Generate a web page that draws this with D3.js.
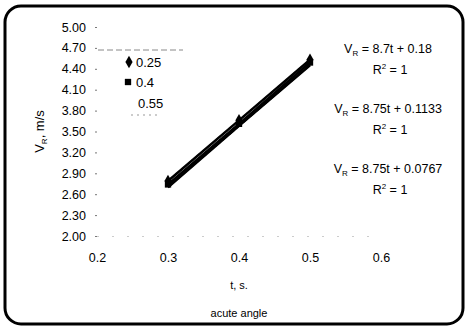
<!DOCTYPE html>
<html>
<head>
<meta charset="utf-8">
<script src="https://cdn.jsdelivr.net/npm/d3@7"></script>
<style>
  body { margin: 0; background: #fff; }
  svg text { font-family: Arial, "Liberation Sans", sans-serif; fill: #000; }
</style>
</head>
<body>
<div id="chart"></div>
<script>
const width = 468;
const height = 329;

// data
const times = [0.3, 0.4, 0.5];
const seriesNames = ['0.25', '0.4', '0.55'];
const values025 = [2.79, 3.66, 4.53];
const values04 = [2.74, 3.61, 4.49];
const values055 = [2.70, 3.58, 4.45];
const xTicks = [0.2, 0.3, 0.4, 0.5, 0.6];
const yTicks = [2.0, 2.3, 2.6, 2.9, 3.2, 3.5, 3.8, 4.1, 4.4, 4.7, 5.0];
const equations = ['8.7t + 0.18', '8.75t + 0.1133', '8.75t + 0.0767'];
const trendSlope = [8.7, 8.75, 8.75];
const trendIntercept = [0.18, 0.1133, 0.0767];

const series = [values025, values04, values055].map((vals, i) => ({
  name: seriesNames[i],
  points: vals.map((v, j) => ({ t: times[j], v: v }))
}));

const svg = d3.select('#chart').append('svg')
  .attr('width', width)
  .attr('height', height);

// frame
svg.append('rect')
  .attr('x', 5).attr('y', 6)
  .attr('width', 458).attr('height', 318)
  .attr('rx', 16).attr('ry', 16)
  .attr('fill', 'none')
  .attr('stroke', '#000')
  .attr('stroke-width', 3);

const x = d3.scaleLinear().domain([0.2, 0.6]).range([97, 381]);
const y = d3.scaleLinear().domain([2, 5]).range([236, 27]);

const g = svg.append('g');

// y axis
const yAxis = d3.axisLeft(y)
  .tickValues(yTicks)
  .tickFormat(d3.format('.2f'))
  .tickSize(2)
  .tickPadding(9);

g.append('g')
  .attr('transform', `translate(${x(0.2)},0)`)
  .call(yAxis)
  .call(s => s.select('.domain').remove())
  .call(s => s.selectAll('line').attr('stroke', '#777'))
  .call(s => s.selectAll('text').attr('font-size', 12.5).style('font-family', 'Arial, sans-serif'));

// x axis (dotted baseline)
const xAxis = d3.axisBottom(x)
  .tickValues(xTicks)
  .tickFormat(d3.format('.1f'))
  .tickSize(0)
  .tickPadding(17);

g.append('g')
  .attr('transform', `translate(0,${y(2)})`)
  .call(xAxis)
  .call(s => s.select('.domain')
    .attr('stroke', '#999')
    .attr('stroke-dasharray', '1,14'))
  .call(s => s.selectAll('text').attr('font-size', 12.5).style('font-family', 'Arial, sans-serif'));

// axis titles
svg.append('text')
  .attr('transform', `translate(44,${y(3.5)}) rotate(-90)`)
  .attr('text-anchor', 'middle')
  .attr('font-size', 13)
  .call(t => {
    t.append('tspan').text('V');
    t.append('tspan').attr('font-size', 8).attr('dy', 3).text('R');
    t.append('tspan').attr('dy', -3).text(', m/s');
  });

svg.append('text')
  .attr('x', x(0.4)).attr('y', 289)
  .attr('text-anchor', 'middle')
  .attr('font-size', 11)
  .text('t, s.');

svg.append('text')
  .attr('x', x(0.4)).attr('y', 317)
  .attr('text-anchor', 'middle')
  .attr('font-size', 11)
  .text('acute angle');

// trend lines (dashed)
const trendX = [0.3, 0.5];
trendSlope.forEach((m, i) => {
  g.append('line')
    .attr('x1', x(trendX[0])).attr('y1', y(m * trendX[0] + trendIntercept[i]))
    .attr('x2', x(trendX[1])).attr('y2', y(m * trendX[1] + trendIntercept[i]))
    .attr('stroke', '#000')
    .attr('stroke-width', 1.5)
    .attr('stroke-dasharray', '6,3');
});

// series lines
const line = d3.line().x(d => x(d.t)).y(d => y(d.v));
g.selectAll('.series')
  .data(series)
  .enter().append('path')
    .attr('class', 'series')
    .attr('d', d => line(d.points))
    .attr('fill', 'none')
    .attr('stroke', '#000')
    .attr('stroke-width', 2.5);

// markers
const diamond = d3.symbol().type(d3.symbolDiamond).size(45);
const square = d3.symbol().type(d3.symbolSquare).size(40);

g.selectAll('.m0')
  .data(series[0].points)
  .enter().append('path')
    .attr('class', 'm0')
    .attr('transform', d => `translate(${x(d.t)},${y(d.v)})`)
    .attr('d', diamond)
    .attr('fill', '#000');

g.selectAll('.m1')
  .data(series[1].points)
  .enter().append('path')
    .attr('class', 'm1')
    .attr('transform', d => `translate(${x(d.t)},${y(d.v)})`)
    .attr('d', square)
    .attr('fill', '#000');

// legend
const legend = svg.append('g');
legend.append('line')
  .attr('x1', 98).attr('x2', 183).attr('y1', 50).attr('y2', 50)
  .attr('stroke', '#888').attr('stroke-dasharray', '6,3');
legend.append('line')
  .attr('x1', 131).attr('x2', 160).attr('y1', 115).attr('y2', 115)
  .attr('stroke', '#999').attr('stroke-dasharray', '2,4');

const legendY = [62, 82, 103];
legend.append('path')
  .attr('transform', `translate(129,${legendY[0]})`)
  .attr('d', diamond).attr('fill', '#000');
legend.append('path')
  .attr('transform', `translate(128,${legendY[1]})`)
  .attr('d', square).attr('fill', '#000');
seriesNames.forEach((n, i) => {
  legend.append('text')
    .attr('x', 136 + (i === 2 ? 2 : 0))
    .attr('y', legendY[i] + 5)
    .attr('font-size', 13)
    .text(n);
});

// equation labels
const eqY = [53, 113, 173];
equations.forEach((eq, i) => {
  const t = svg.append('text')
    .attr('x', 388).attr('y', eqY[i])
    .attr('text-anchor', 'middle')
    .attr('font-size', 12.5);
  t.append('tspan').text('V');
  t.append('tspan').attr('font-size', 8).attr('dy', 3).text('R');
  t.append('tspan').attr('dy', -3).text(' = ' + eq);

  const r = svg.append('text')
    .attr('x', 390).attr('y', eqY[i] + 21)
    .attr('text-anchor', 'middle')
    .attr('font-size', 12.5);
  r.append('tspan').text('R');
  r.append('tspan').attr('font-size', 8).attr('dy', -5).text('2');
  r.append('tspan').attr('dy', 5).text(' = 1');
});
</script>
</body>
</html>
